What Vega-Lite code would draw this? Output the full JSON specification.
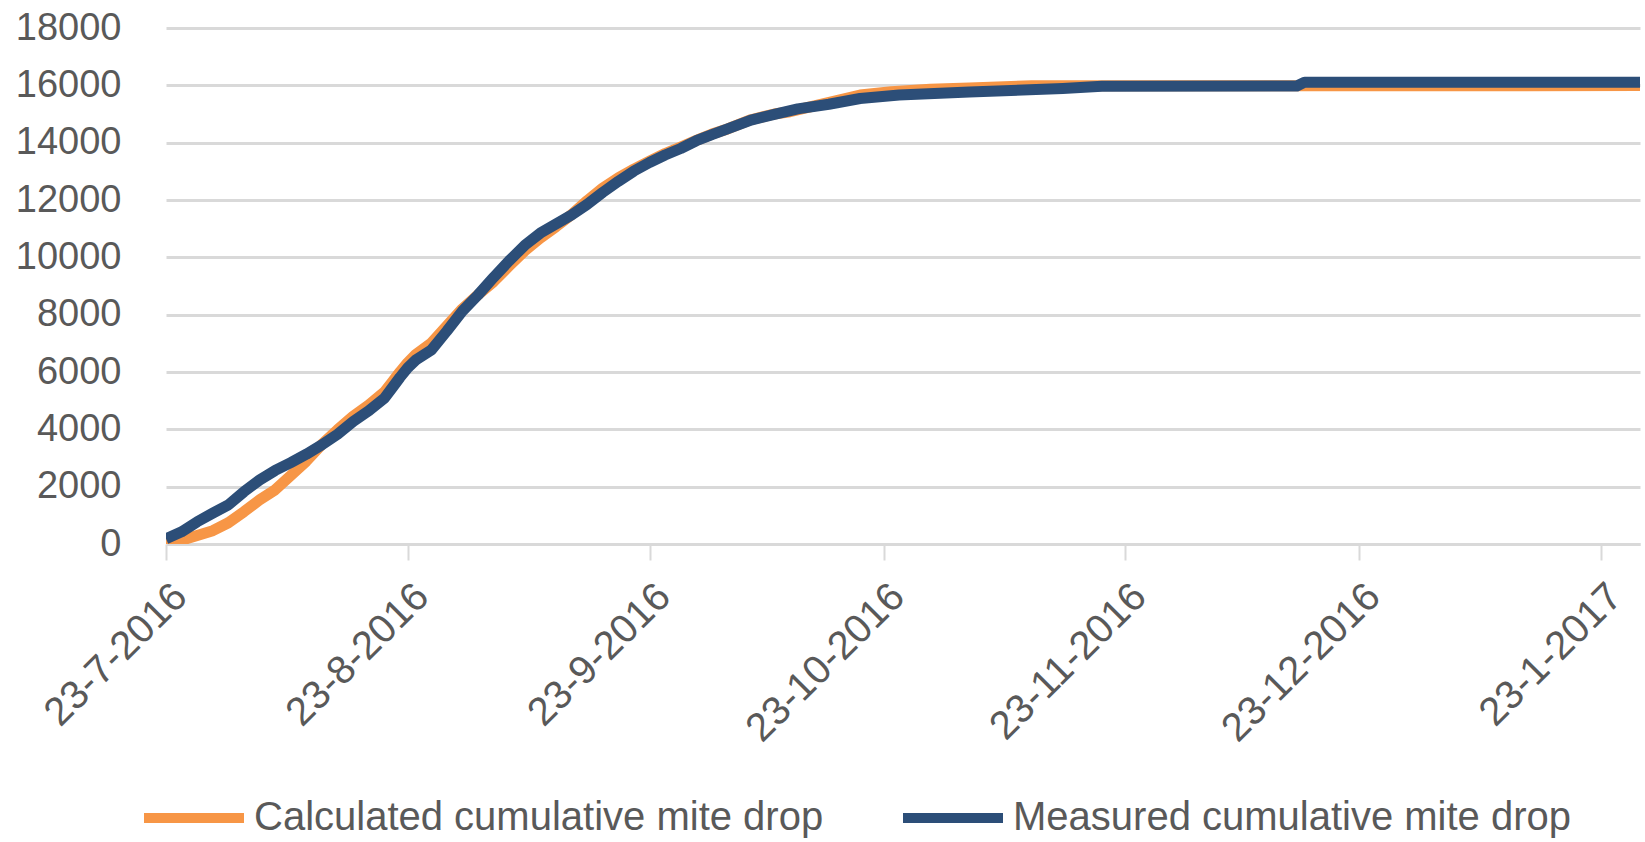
{
  "$schema": "https://vega.github.io/schema/vega-lite/v6.json",
  "width": 1474,
  "height": 516,
  "autosize": {"type": "none"},
  "padding": {"left": 166, "top": 28, "right": 5, "bottom": 298},
  "background": "white",
  "config": {"view": {"stroke": null}, "font": "Liberation Sans"},
  "data": {"values": [
    {"d": "2016-07-23", "s": "Measured cumulative mite drop", "v": 180},
    {"d": "2016-07-25", "s": "Measured cumulative mite drop", "v": 425},
    {"d": "2016-07-27", "s": "Measured cumulative mite drop", "v": 775},
    {"d": "2016-07-29", "s": "Measured cumulative mite drop", "v": 1075},
    {"d": "2016-07-31", "s": "Measured cumulative mite drop", "v": 1364},
    {"d": "2016-08-02", "s": "Measured cumulative mite drop", "v": 1825},
    {"d": "2016-08-04", "s": "Measured cumulative mite drop", "v": 2233},
    {"d": "2016-08-06", "s": "Measured cumulative mite drop", "v": 2566},
    {"d": "2016-08-08", "s": "Measured cumulative mite drop", "v": 2839},
    {"d": "2016-08-10", "s": "Measured cumulative mite drop", "v": 3134},
    {"d": "2016-08-12", "s": "Measured cumulative mite drop", "v": 3460},
    {"d": "2016-08-14", "s": "Measured cumulative mite drop", "v": 3828},
    {"d": "2016-08-16", "s": "Measured cumulative mite drop", "v": 4273},
    {"d": "2016-08-18", "s": "Measured cumulative mite drop", "v": 4646},
    {"d": "2016-08-20", "s": "Measured cumulative mite drop", "v": 5086},
    {"d": "2016-08-21", "s": "Measured cumulative mite drop", "v": 5448},
    {"d": "2016-08-22", "s": "Measured cumulative mite drop", "v": 5813},
    {"d": "2016-08-23", "s": "Measured cumulative mite drop", "v": 6148},
    {"d": "2016-08-24", "s": "Measured cumulative mite drop", "v": 6411},
    {"d": "2016-08-26", "s": "Measured cumulative mite drop", "v": 6762},
    {"d": "2016-08-28", "s": "Measured cumulative mite drop", "v": 7426},
    {"d": "2016-08-30", "s": "Measured cumulative mite drop", "v": 8123},
    {"d": "2016-09-01", "s": "Measured cumulative mite drop", "v": 8686},
    {"d": "2016-09-03", "s": "Measured cumulative mite drop", "v": 9300},
    {"d": "2016-09-05", "s": "Measured cumulative mite drop", "v": 9880},
    {"d": "2016-09-07", "s": "Measured cumulative mite drop", "v": 10420},
    {"d": "2016-09-09", "s": "Measured cumulative mite drop", "v": 10846},
    {"d": "2016-09-11", "s": "Measured cumulative mite drop", "v": 11165},
    {"d": "2016-09-13", "s": "Measured cumulative mite drop", "v": 11476},
    {"d": "2016-09-15", "s": "Measured cumulative mite drop", "v": 11847},
    {"d": "2016-09-17", "s": "Measured cumulative mite drop", "v": 12266},
    {"d": "2016-09-19", "s": "Measured cumulative mite drop", "v": 12653},
    {"d": "2016-09-21", "s": "Measured cumulative mite drop", "v": 13010},
    {"d": "2016-09-23", "s": "Measured cumulative mite drop", "v": 13308},
    {"d": "2016-09-25", "s": "Measured cumulative mite drop", "v": 13571},
    {"d": "2016-09-27", "s": "Measured cumulative mite drop", "v": 13797},
    {"d": "2016-09-29", "s": "Measured cumulative mite drop", "v": 14068},
    {"d": "2016-10-01", "s": "Measured cumulative mite drop", "v": 14283},
    {"d": "2016-10-03", "s": "Measured cumulative mite drop", "v": 14480},
    {"d": "2016-10-06", "s": "Measured cumulative mite drop", "v": 14788},
    {"d": "2016-10-09", "s": "Measured cumulative mite drop", "v": 14990},
    {"d": "2016-10-12", "s": "Measured cumulative mite drop", "v": 15180},
    {"d": "2016-10-16", "s": "Measured cumulative mite drop", "v": 15340},
    {"d": "2016-10-20", "s": "Measured cumulative mite drop", "v": 15540},
    {"d": "2016-10-25", "s": "Measured cumulative mite drop", "v": 15660},
    {"d": "2016-11-03", "s": "Measured cumulative mite drop", "v": 15770},
    {"d": "2016-11-15", "s": "Measured cumulative mite drop", "v": 15890},
    {"d": "2016-11-20", "s": "Measured cumulative mite drop", "v": 15970},
    {"d": "2016-12-15", "s": "Measured cumulative mite drop", "v": 15975},
    {"d": "2016-12-16", "s": "Measured cumulative mite drop", "v": 16110},
    {"d": "2017-01-28", "s": "Measured cumulative mite drop", "v": 16110},
    {"d": "2016-07-23", "s": "Calculated cumulative mite drop", "v": 20},
    {"d": "2016-07-25", "s": "Calculated cumulative mite drop", "v": 130},
    {"d": "2016-07-27", "s": "Calculated cumulative mite drop", "v": 300},
    {"d": "2016-07-29", "s": "Calculated cumulative mite drop", "v": 464},
    {"d": "2016-07-31", "s": "Calculated cumulative mite drop", "v": 741},
    {"d": "2016-08-02", "s": "Calculated cumulative mite drop", "v": 1126},
    {"d": "2016-08-04", "s": "Calculated cumulative mite drop", "v": 1536},
    {"d": "2016-08-06", "s": "Calculated cumulative mite drop", "v": 1890},
    {"d": "2016-08-08", "s": "Calculated cumulative mite drop", "v": 2390},
    {"d": "2016-08-10", "s": "Calculated cumulative mite drop", "v": 2892},
    {"d": "2016-08-12", "s": "Calculated cumulative mite drop", "v": 3479},
    {"d": "2016-08-14", "s": "Calculated cumulative mite drop", "v": 3988},
    {"d": "2016-08-16", "s": "Calculated cumulative mite drop", "v": 4461},
    {"d": "2016-08-18", "s": "Calculated cumulative mite drop", "v": 4848},
    {"d": "2016-08-20", "s": "Calculated cumulative mite drop", "v": 5299},
    {"d": "2016-08-21", "s": "Calculated cumulative mite drop", "v": 5651},
    {"d": "2016-08-22", "s": "Calculated cumulative mite drop", "v": 6002},
    {"d": "2016-08-23", "s": "Calculated cumulative mite drop", "v": 6330},
    {"d": "2016-08-24", "s": "Calculated cumulative mite drop", "v": 6601},
    {"d": "2016-08-26", "s": "Calculated cumulative mite drop", "v": 7003},
    {"d": "2016-08-28", "s": "Calculated cumulative mite drop", "v": 7607},
    {"d": "2016-08-30", "s": "Calculated cumulative mite drop", "v": 8206},
    {"d": "2016-09-01", "s": "Calculated cumulative mite drop", "v": 8689},
    {"d": "2016-09-03", "s": "Calculated cumulative mite drop", "v": 9150},
    {"d": "2016-09-05", "s": "Calculated cumulative mite drop", "v": 9700},
    {"d": "2016-09-07", "s": "Calculated cumulative mite drop", "v": 10230},
    {"d": "2016-09-09", "s": "Calculated cumulative mite drop", "v": 10673},
    {"d": "2016-09-11", "s": "Calculated cumulative mite drop", "v": 11069},
    {"d": "2016-09-13", "s": "Calculated cumulative mite drop", "v": 11489},
    {"d": "2016-09-15", "s": "Calculated cumulative mite drop", "v": 11975},
    {"d": "2016-09-17", "s": "Calculated cumulative mite drop", "v": 12416},
    {"d": "2016-09-19", "s": "Calculated cumulative mite drop", "v": 12774},
    {"d": "2016-09-21", "s": "Calculated cumulative mite drop", "v": 13080},
    {"d": "2016-09-23", "s": "Calculated cumulative mite drop", "v": 13358},
    {"d": "2016-09-25", "s": "Calculated cumulative mite drop", "v": 13621},
    {"d": "2016-09-27", "s": "Calculated cumulative mite drop", "v": 13850},
    {"d": "2016-09-29", "s": "Calculated cumulative mite drop", "v": 14080},
    {"d": "2016-10-01", "s": "Calculated cumulative mite drop", "v": 14300},
    {"d": "2016-10-03", "s": "Calculated cumulative mite drop", "v": 14480},
    {"d": "2016-10-06", "s": "Calculated cumulative mite drop", "v": 14800},
    {"d": "2016-10-09", "s": "Calculated cumulative mite drop", "v": 15000},
    {"d": "2016-10-11", "s": "Calculated cumulative mite drop", "v": 15080},
    {"d": "2016-10-17", "s": "Calculated cumulative mite drop", "v": 15470},
    {"d": "2016-10-20", "s": "Calculated cumulative mite drop", "v": 15660},
    {"d": "2016-10-24", "s": "Calculated cumulative mite drop", "v": 15780},
    {"d": "2016-10-29", "s": "Calculated cumulative mite drop", "v": 15860},
    {"d": "2016-11-03", "s": "Calculated cumulative mite drop", "v": 15910},
    {"d": "2016-11-11", "s": "Calculated cumulative mite drop", "v": 15985},
    {"d": "2017-01-28", "s": "Calculated cumulative mite drop", "v": 15990}
  ]},
  "encoding": {
    "x": {
      "field": "d", "type": "temporal",
      "scale": {"type": "utc", "domain": [{"year": 2016, "month": 7, "date": 23, "utc": true}, {"year": 2017, "month": 1, "date": 28, "utc": true}]},
      "axis": {
        "title": null,
        "values": [
          {"year": 2016, "month": 7, "date": 23, "utc": true},
          {"year": 2016, "month": 8, "date": 23, "utc": true},
          {"year": 2016, "month": 9, "date": 23, "utc": true},
          {"year": 2016, "month": 10, "date": 23, "utc": true},
          {"year": 2016, "month": 11, "date": 23, "utc": true},
          {"year": 2016, "month": 12, "date": 23, "utc": true},
          {"year": 2017, "month": 1, "date": 23, "utc": true}
        ],
        "format": "%-d-%-m-%Y",
        "labelAngle": -45,
        "labelFontSize": 40,
        "labelColor": "#595959",
        "labelFont": "Liberation Sans",
        "labelLimit": 600,
        "labelPadding": 16,
        "labelDx": -8,
        "labelDy": -8,
        "labelOverlap": false,
        "labelFlush": false,
        "labelBound": false,
        "tickSize": 16,
        "tickWidth": 2,
        "tickColor": "#D9D9D9",
        "domainColor": "#D9D9D9",
        "domainWidth": 3,
        "grid": false
      }
    },
    "y": {
      "field": "v", "type": "quantitative",
      "scale": {"domain": [0, 18000], "nice": false},
      "axis": {
        "title": null,
        "values": [0, 2000, 4000, 6000, 8000, 10000, 12000, 14000, 16000, 18000],
        "format": "d",
        "labelFontSize": 38,
        "labelColor": "#595959",
        "labelFont": "Liberation Sans",
        "labelPadding": 45,
        "ticks": false,
        "domain": false,
        "grid": true,
        "gridColor": "#D9D9D9",
        "gridWidth": 3
      }
    },
    "color": {
      "field": "s", "type": "nominal",
      "scale": {"domain": ["Calculated cumulative mite drop", "Measured cumulative mite drop"], "range": ["#F79646", "#2C4E78"]},
      "legend": {
        "title": null,
        "orient": "none",
        "legendX": -27,
        "legendY": 735,
        "direction": "horizontal",
        "symbolType": "stroke",
        "symbolSize": 10000,
        "symbolStrokeWidth": 10,
        "labelFontSize": 40,
        "labelColor": "#595959",
        "labelFont": "Liberation Sans",
        "labelLimit": 1000,
        "labelOffset": 5,
        "columnPadding": 59,
        "padding": 0
      }
    }
  },
  "layer": [
    {
      "transform": [{"filter": "datum.s === 'Calculated cumulative mite drop'"}],
      "mark": {"type": "line", "strokeWidth": 11, "strokeJoin": "round", "strokeCap": "butt", "clip": true}
    },
    {
      "transform": [{"filter": "datum.s === 'Measured cumulative mite drop'"}],
      "mark": {"type": "line", "strokeWidth": 11, "strokeJoin": "round", "strokeCap": "butt", "clip": true}
    }
  ]
}
